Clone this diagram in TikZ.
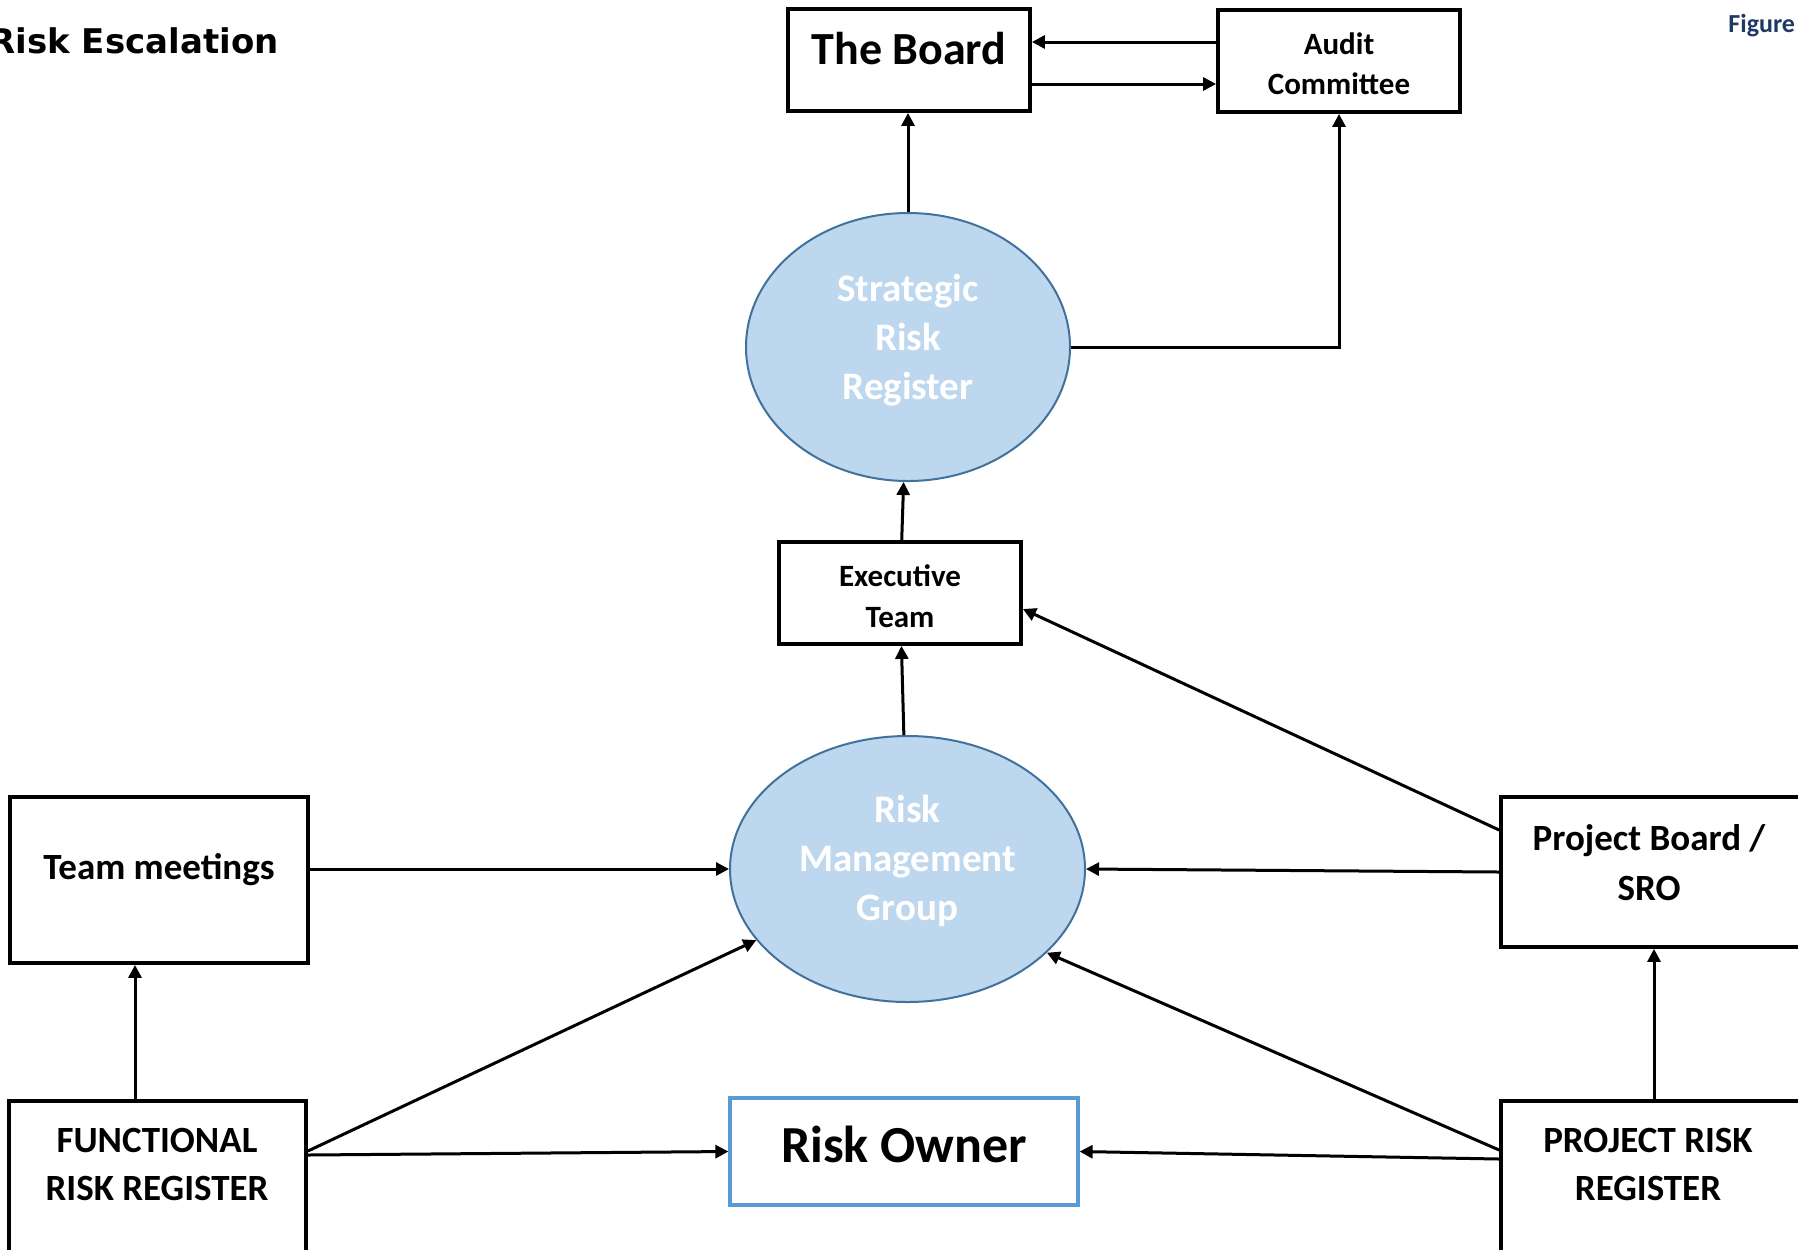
\documentclass[tikz,border=0pt]{standalone}
\usepackage{fontspec}
\setmainfont{Carlito}
\newfontfamily\titlefont{DejaVu Sans}
\usepackage{tikz}
\usetikzlibrary{arrows.meta,shapes.geometric}

\definecolor{ellfill}{RGB}{189,215,238}
\definecolor{elldraw}{RGB}{65,113,156}
\definecolor{ownerblue}{RGB}{91,155,213}
\definecolor{figblue}{RGB}{31,56,100}

\begin{document}
\begin{tikzpicture}[x=0.5pt,y=-0.5pt,
  box/.style={draw,line width=1.9pt,rectangle,inner sep=0pt},
  reg/.style={ellipse,draw=elldraw,line width=1pt,fill=ellfill,inner sep=0pt},
  lbl/.style 2 args={align=center,inner sep=0pt,font=\bfseries\fontsize{#1}{#2}\selectfont},
  arr/.style={line width=1.5pt,-{Triangle[length=6.5pt,width=6.5pt]}}]
  \useasboundingbox (0,0) rectangle (1798,1249);

  % shapes
  \node[box,minimum width=121pt,minimum height=51pt] (board) at (909,60) {};
  \node[box,minimum width=121pt,minimum height=51pt] (audit) at (1339,61) {};
  \node[reg,minimum width=162pt,minimum height=134pt] (srr) at (908,347) {};
  \node[box,minimum width=121pt,minimum height=51pt] (exec) at (900,593) {};
  \node[reg,minimum width=177.5pt,minimum height=133pt] (rmg) at (907.5,869) {};
  \node[box,minimum width=149pt,minimum height=83pt] (tm) at (159,880) {};
  \node[box,minimum width=149.5pt,minimum height=75pt] (pb) at (1650.5,872) {};
  \node[box,minimum width=148.5pt,minimum height=80.5pt] (frr) at (157.5,1181.5) {};
  \node[box,minimum width=149.5pt,minimum height=80.5pt] (prr) at (1650.5,1181.5) {};
  \node[box,draw=ownerblue,line width=1.6pt,minimum width=174pt,minimum height=53.5pt] (owner) at (904,1151.5) {};

  % texts
  \node[lbl={17}{21},font=\titlefont\bfseries\fontsize{17}{21}\selectfont,anchor=east] (title) at (279,41) {Risk Escalation};
  \node[lbl={13}{16},text=figblue,anchor=west] (fig) at (1728,26) {Figure};
  \node[lbl={23}{28}] (boardtxt) at (909,49) {The Board};
  \node[lbl={15.5}{20}] (audittxt) at (1339,64) {Audit\\Committee};
  \node[lbl={19.5}{24.5},text=white] (srrtxt) at (908,340) {Strategic\\Risk\\Register};
  \node[lbl={15.5}{20.5}] (exectxt) at (900,596.5) {Executive\\Team};
  \node[lbl={19.5}{24.5},text=white] (rmgtxt) at (907.5,861) {Risk\\Management\\Group};
  \node[lbl={18.5}{23}] (tmtxt) at (159,870) {Team meetings};
  \node[lbl={18.5}{25}] (pbtxt) at (1649,863) {Project Board /\\SRO};
  \node[lbl={18.5}{24}] (frrtxt) at (157,1164) {FUNCTIONAL\\RISK REGISTER};
  \node[lbl={18.5}{24}] (prrtxt) at (1648,1164) {PROJECT RISK\\REGISTER};
  \node[lbl={26}{31}] (ownertxt) at (904,1144) {Risk Owner};

  % escalation arrows
  \draw[arr] (srr.north) -- (srr.north |- board.south);
  \draw[arr] (audit.west |- 0,42) -- (board.east |- 0,42);
  \draw[arr] (board.east |- 0,84) -- (audit.west |- 0,84);
  \draw[arr] (srr.east) -| (audit.south);
  \draw[arr] (exec) -- (srr);
  \draw[arr] (rmg) -- (exec);
  \draw[arr] (pb.west |- 0,830) -- (exec.east |- 0,609);
  \draw[arr] (pb.west) -- (rmg.east);
  \draw[arr] (tm.east |- rmg.west) -- (rmg.west);
  \draw[arr] (frr.north -| 135,0) -- (tm.south -| 135,0);
  \draw[arr] (frr.east |- 0,1151) -- (rmg);
  \draw[arr] (frr.east |- 0,1155) -- (owner.west);
  \draw[arr] (prr.west |- 0,1159) -- (owner.east);
  \draw[arr] (prr.west |- 0,1150) -- (rmg.-31);
  \draw[arr] (prr.north -| 1654,0) -- (pb.south -| 1654,0);
\end{tikzpicture}
\end{document}
